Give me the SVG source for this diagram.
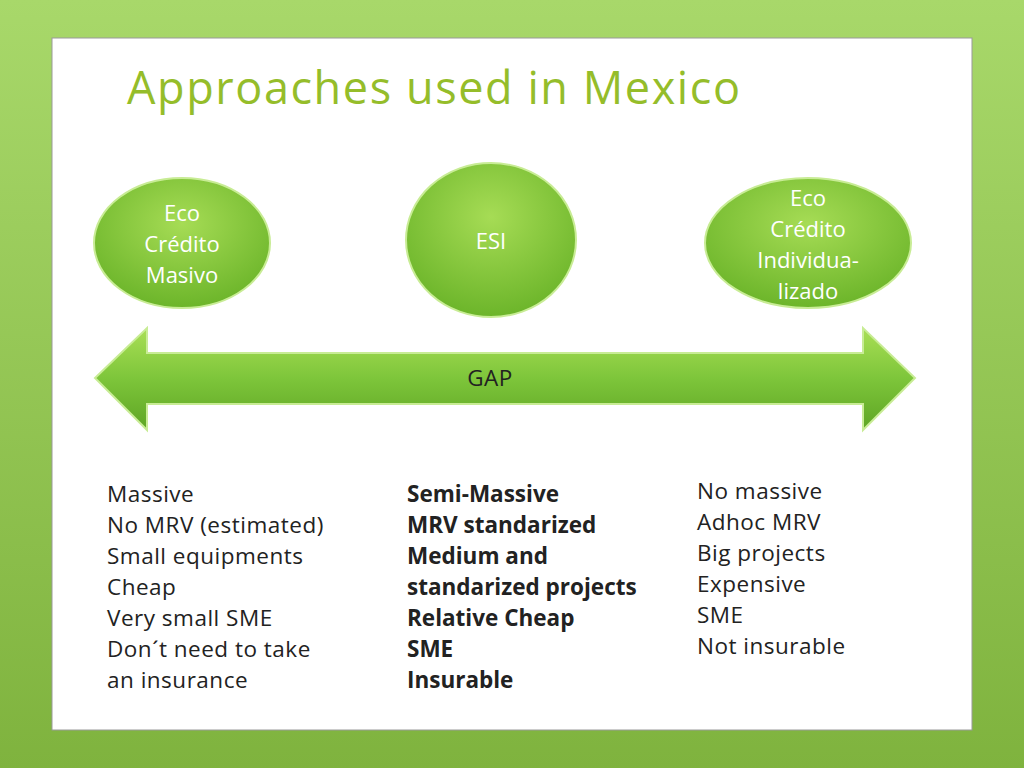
<svg xmlns="http://www.w3.org/2000/svg" width="1024" height="768" viewBox="0 0 1024 768">
<defs>
<linearGradient id="bg" x1="0" y1="0" x2="0" y2="1"><stop offset="0" stop-color="#a8d86a"/><stop offset="1" stop-color="#7fb33e"/></linearGradient>
<radialGradient id="cg" cx="0.5" cy="0.35" r="0.65"><stop offset="0" stop-color="#a6dc55"/><stop offset="1" stop-color="#6cb52a"/></radialGradient>
<linearGradient id="ag" x1="0" y1="0" x2="0" y2="1"><stop offset="0" stop-color="#a9df55"/><stop offset="0.5" stop-color="#7dc53a"/><stop offset="1" stop-color="#5ea524"/></linearGradient>
<style>
.t{font-family:"Open Sans","Lato",sans-serif;font-size:22.5px;fill:#222;letter-spacing:0.5px}
.b{font-weight:bold;letter-spacing:0}
.c{font-family:"Open Sans","Lato",sans-serif;font-size:22px;fill:#fff;text-anchor:middle}
.circ{fill:url(#cg);stroke:#c8ec95;stroke-width:2}
</style>
</defs>
<rect width="1024" height="768" fill="url(#bg)"/>
<rect x="52" y="38" width="920" height="692" fill="#fff" stroke="#999" stroke-width="1"/>
<text x="127" y="104" font-family="'Open Sans',Lato,sans-serif" font-size="45" fill="#95bd2a" textLength="613">Approaches used in Mexico</text>
<g id="n1"><ellipse class="circ" cx="182" cy="243" rx="88" ry="65"/><text class="c"><tspan x="182" y="221">Eco</tspan><tspan x="182" y="252">Crédito</tspan><tspan x="182" y="283">Masivo</tspan></text></g>
<g id="n2"><ellipse class="circ" cx="491" cy="240" rx="85" ry="77"/><text class="c" x="491" y="249">ESI</text></g>
<g id="n3"><ellipse class="circ" cx="808" cy="243" rx="103" ry="65"/><text class="c"><tspan x="808" y="206">Eco</tspan><tspan x="808" y="237">Crédito</tspan><tspan x="808" y="268">Individua-</tspan><tspan x="808" y="299">lizado</tspan></text></g>
<g id="connectors"><path d="M95,378 L147,328 L147,353 L863,353 L863,328 L915,378 L863,430 L863,404 L147,404 L147,430 Z" fill="url(#ag)" stroke="#c8ec95" stroke-width="2"/>
<text class="t" x="490" y="386" text-anchor="middle" fill="#333">GAP</text></g>
<text class="t"><tspan x="107" y="502">Massive</tspan><tspan x="107" y="533">No MRV (estimated)</tspan><tspan x="107" y="564">Small equipments</tspan><tspan x="107" y="595">Cheap</tspan><tspan x="107" y="626">Very small SME</tspan><tspan x="107" y="657">Don´t need to take</tspan><tspan x="107" y="688">an insurance</tspan></text>
<text class="t b"><tspan x="407" y="502">Semi-Massive</tspan><tspan x="407" y="533">MRV standarized</tspan><tspan x="407" y="564">Medium and</tspan><tspan x="407" y="595">standarized projects</tspan><tspan x="407" y="626">Relative Cheap</tspan><tspan x="407" y="657">SME</tspan><tspan x="407" y="688">Insurable</tspan></text>
<text class="t"><tspan x="697" y="499">No massive</tspan><tspan x="697" y="530">Adhoc MRV</tspan><tspan x="697" y="561">Big projects</tspan><tspan x="697" y="592">Expensive</tspan><tspan x="697" y="623">SME</tspan><tspan x="697" y="654">Not insurable</tspan></text>
</svg>
